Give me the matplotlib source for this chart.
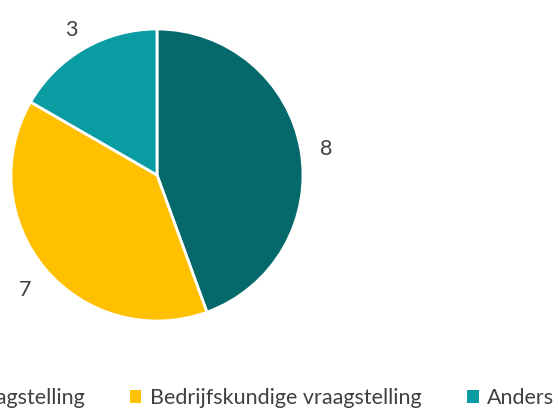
import matplotlib
matplotlib.use("Agg")
import matplotlib.pyplot as plt
import matplotlib.transforms as mtransforms
from matplotlib.patches import Patch

categories = ["Wetenschappelijke vraagstelling", "Bedrijfskundige vraagstelling", "Anders"]
values = [8, 7, 3]
colors = ["#05686B", "#FFC000", "#0A9CA3"]

plt.rcParams['font.family'] = ['Lato', 'DejaVu Sans']
text_color = "#404040"

W, H = 558, 411
fig = plt.figure(figsize=(W/100, H/100), dpi=100)
cx, cy, r = 157, 175, 146
ax = fig.add_axes([(cx - r)/W, (H - cy - r)/H, 2*r/W, 2*r/H])
wedges, texts = ax.pie(values, colors=colors, startangle=90, counterclock=False,
                       labels=[str(v) for v in values], labeldistance=1.18,
                       wedgeprops=dict(edgecolor="white", linewidth=2.0),
                       textprops=dict(fontsize=15.5, color=text_color))
for t in texts:
    t.set_ha('center')
    t.set_va('center')
    t.set_transform(mtransforms.offset_copy(ax.transData, fig=fig, x=0, y=-4, units='dots'))
ax.set_xlim(-1, 1)
ax.set_ylim(-1, 1)
ax.set_aspect('auto')
ax.axis('off')

handles = [Patch(facecolor=c, edgecolor='none') for c in colors]
leg = fig.legend(handles, categories, loc='center left', bbox_to_anchor=(0.0, 13/H),
                 ncol=3, frameon=False, fontsize=15.5, handlelength=0.55, handleheight=0.55,
                 handletextpad=0.4, columnspacing=2.1, borderpad=0, borderaxespad=0)
for t in leg.get_texts():
    t.set_color(text_color)
fig.canvas.draw()
x0 = leg.get_texts()[1].get_window_extent().x0
leg.set_bbox_to_anchor((0.0 + (150 - x0)/W, 13/H), transform=fig.transFigure)

fig.savefig("out.png", dpi=100)
